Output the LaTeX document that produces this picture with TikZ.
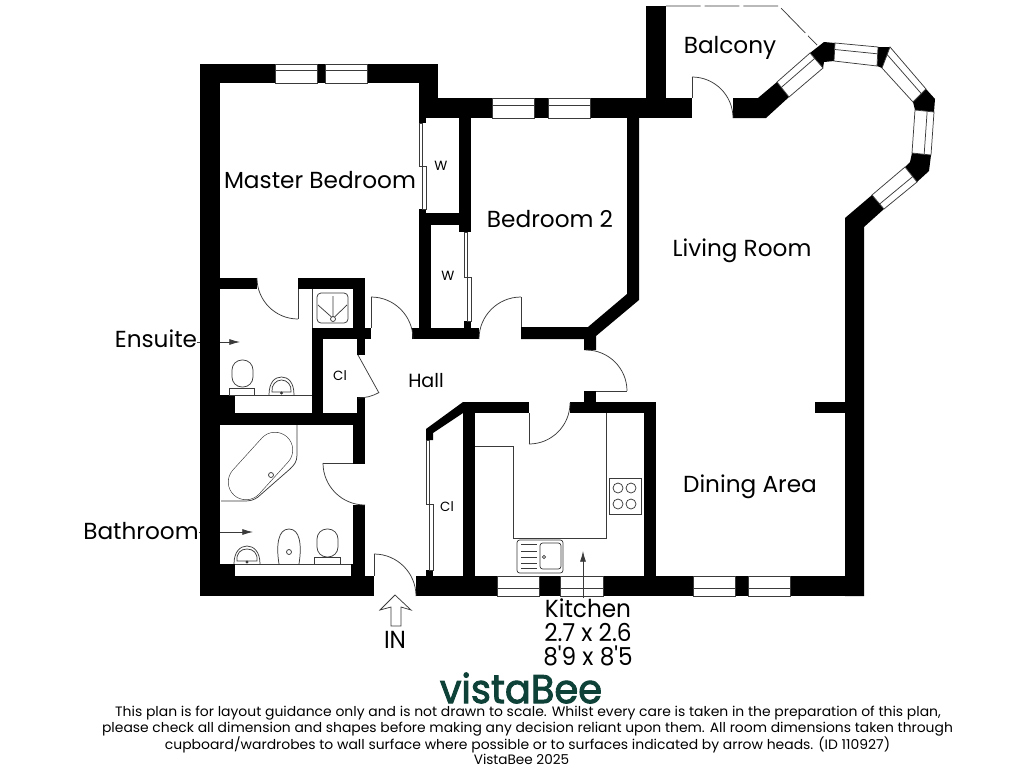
\documentclass[tikz,border=0pt]{standalone}
\usepackage{fontspec}
\usepackage{graphicx}
\setmainfont{Poppins}
\newfontfamily\plainfont{Poppins}
\usetikzlibrary{arrows.meta,calc}
\definecolor{vista}{HTML}{0E4238}
\definecolor{fine}{HTML}{3A3A3A}
\tikzset{
  wall/.style={fill=black,draw=none},
  fine/.style={draw=fine,line width=0.55pt},
  lbl/.style={inner sep=0pt,font=\fontsize{17.4}{20}\selectfont},
  tall/.style={inner sep=0pt,font=\fontsize{18.5}{21}\selectfont},
  small/.style={inner sep=0pt,font=\fontsize{10}{12}\selectfont},
  foot/.style={inner sep=0pt,font=\fontsize{10.2}{12}\selectfont},
  arrowline/.style={draw=fine,line width=0.55pt,-{Latex[length=8pt,width=4.5pt]}},
}
\newcommand{\wallrect}[4]{\fill[wall] (#1,#2) rectangle (#3,#4);}
\newcommand{\doorarc}[5]{\draw[fine] (#1,#2) ++(#3:#5) arc[start angle=#3,end angle=#4,radius=#5];}
\newcommand{\winquad}[4]{\fill[white] #1--#2--#3--#4--cycle; \draw[fine] #1--#2--#3--#4--cycle; \draw[fine] ($#1!0.36!#4$)--($#2!0.36!#3$);}
\newcommand{\heavytext}[1]{\special{pdf:code q 2 Tr 0.7 w 0.055 0.259 0.22 RG}#1\special{pdf:code 0 Tr Q}}
\begin{document}
\begin{tikzpicture}[x=0.75pt,y=-0.75pt]
\useasboundingbox (0,0) rectangle (1024,768);
\fill[white] (0,0) rectangle (1024,768);
% side labels and their arrows sit under the wall
\node[lbl] (ensuite) at (156,339) {Ensuite};
\node[lbl] (bathroom) at (141,531) {Bathroom};
\coordinate (ensA) at (240,342);
\coordinate (bathA) at (253,532);
\draw[arrowline] (ensuite.east |- ensA) -- (ensA);
\draw[arrowline] (bathroom.east |- bathA) -- (bathA);
% outer and partition walls
\wallrect{200}{64}{220}{596}
\wallrect{200}{64}{275}{83}
\wallrect{317}{64}{325}{83}
\wallrect{367}{64}{438}{83}
\wallrect{419}{64}{438}{118}
\wallrect{419}{118}{426}{123}
\wallrect{438}{98}{492}{118}
\wallrect{534}{98}{548}{118}
\wallrect{590}{98}{692}{118}
\wallrect{646}{6}{666}{98}
\fill[wall] (627,118)--(639,118)--(639,300)--(596,336)--(596,350)--(584,350)--(584,339)--(521,339)--(521,327)--(588,327)--(627,294)--cycle;
\wallrect{459}{118}{471}{232}
\wallrect{419}{209}{426}{213}
\wallrect{419}{213}{471}{225}
\wallrect{419}{225}{431}{328}
\wallrect{464}{321}{471}{328}
\wallrect{412}{328}{479}{339}
% ensuite
\wallrect{220}{278}{257}{289}
\wallrect{298}{278}{365}{289}
\wallrect{353}{289}{365}{328}
\wallrect{312}{328}{371}{339}
\wallrect{357}{339}{365}{355}
\wallrect{312}{339}{323}{425}
\wallrect{357}{397}{365}{425}
\wallrect{200}{413}{365}{425}
\wallrect{220}{395}{235}{413}
% bathroom
\wallrect{353}{425}{365}{464}
\wallrect{353}{505}{365}{576}
\wallrect{351}{564}{365}{576}
\wallrect{220}{564}{235}{576}
\wallrect{200}{576}{374}{596}
% bottom wall
\wallrect{416}{576}{497}{596}
\wallrect{539}{576}{560}{596}
\wallrect{603}{576}{693}{596}
\wallrect{735}{576}{748}{596}
\wallrect{790}{576}{863}{596}
\wallrect{426}{570}{433}{576}
% kitchen
\wallrect{463}{402}{475}{576}
\wallrect{463}{402}{529}{413}
\wallrect{570}{402}{656}{413}
\wallrect{644}{402}{656}{576}
\wallrect{584}{391}{596}{402}
\fill[wall] (426,429)--(463,402)--(463,413)--(433,433)--(433,440)--(426,440)--cycle;
% right wall and bay
\wallrect{815}{402}{845}{413}
\fill[wall] (845,596)--(845,218)--(872,195)--(884,209)--(864,227)--(864,596)--cycle;
\fill[wall] (733,98)--(758,98)--(777,82)--(789,97)--(766,118)--(733,118)--cycle;
\fill[wall] (810,53)--(824,42)--(835,43)--(834,61)--(824,62)--(823,68)--cycle;
\fill[wall] (878,47)--(890,47)--(898,57)--(882,68)--(877,66)--cycle;
\fill[wall] (926,89)--(935,99)--(934,112)--(915,110)--(913,102)--cycle;
\fill[wall] (912,153)--(931,155)--(929,171)--(917,182)--(905,167)--(910,162)--cycle;
% windows
\winquad{(275,64)}{(317,64)}{(317,83)}{(275,83)}
\winquad{(325,64)}{(367,64)}{(367,83)}{(325,83)}
\winquad{(492,98)}{(534,98)}{(534,118)}{(492,118)}
\winquad{(548,98)}{(590,98)}{(590,118)}{(548,118)}
\winquad{(497,596)}{(539,596)}{(539,576)}{(497,576)}
\winquad{(560,596)}{(603,596)}{(603,576)}{(560,576)}
\winquad{(693,596)}{(735,596)}{(735,576)}{(693,576)}
\winquad{(748,596)}{(790,596)}{(790,576)}{(748,576)}
\winquad{(777,82)}{(810,53)}{(823,68)}{(789,97)}
\winquad{(835,43)}{(878,47)}{(877,66)}{(834,61)}
\winquad{(890,47)}{(926,89)}{(913,102)}{(882,68)}
\winquad{(934,112)}{(931,155)}{(912,153)}{(915,110)}
\winquad{(884,209)}{(917,182)}{(905,167)}{(872,195)}
% balcony edge
\draw[fine,dash pattern=on 26pt off 3pt] (666,6)--(779,6)--(817,45);
% sliding doors
\draw[fine] (419,123) rectangle (422.5,166);
\draw[fine] (422.5,166) rectangle (426,209);
\draw[fine] (464,232) rectangle (467.5,277);
\draw[fine] (467.5,277) rectangle (471,321);
\draw[fine] (426,440) rectangle (429.5,504);
\draw[fine] (429.5,504) rectangle (433,570);
% doors
\draw[fine] (371,297)--(371,328); \doorarc{371}{339}{-90}{0}{42}
\draw[fine] (521,297)--(521,327); \doorarc{521}{339}{180}{270}{42}
\draw[fine] (298,289)--(298,319); \doorarc{298}{278}{180}{90}{41}
\draw[fine] (323,463)--(353,463); \doorarc{365}{463}{180}{90}{42}
\draw[fine] (374,554)--(374,576); \doorarc{374}{596}{-90}{0}{42}
\draw[fine] (529,413)--(529,444); \doorarc{529}{403}{90}{0}{41}
\draw[fine] (596,391)--(627,391); \doorarc{586}{391}{-90}{0}{41}
\draw[fine] (692,77)--(692,98); \doorarc{692}{118}{-90}{0}{41}
\draw[fine] (358,355)--(379,393); \doorarc{358}{355}{61}{90}{43}
% shower
\draw[fine] (312,289)--(312,328);
\draw[fine,rounded corners=3pt] (317,293) rectangle (348,323);
\draw[fine] (333,319) circle[radius=2.5];
\draw[fine] (333,316.5)--(333,296) (331.5,317)--(318,305) (334.5,317)--(347,305);
% ensuite fixtures
\draw[fine] (235,395)--(312,395);
\draw[fine,rounded corners=7.5pt] (232,360) rectangle (253,387);
\draw[fine] (229,388) rectangle (254,395);
\draw[fine] (269,395) .. controls (269,382) and (275,377) .. (281.5,377) .. controls (288,377) and (294,382) .. (294,395);
\draw[fine] (272,392) .. controls (271,385) and (276,380) .. (281.5,380) .. controls (287,380) and (292,385) .. (291,392)--cycle;
\fill[fine] (281.5,393) circle[radius=1];
% bath
\draw[fine,line width=27pt,line cap=round] (246,482)--(275,450);
\draw[white,line width=26.1pt,line cap=round] (246,482)--(275,450);
\draw[fine] (271,475) circle[radius=2.5];
\draw[fine] (297,425)--(297,455) .. controls (297,462) and (294,465) .. (290,469) -- (258,497) .. controls (254,500) and (250,501) .. (245,501) -- (221,501);
% bathroom fixtures
\draw[fine] (235,564)--(351,564);
\draw[fine] (234,564) .. controls (234,552) and (240,546) .. (247,546) .. controls (254,546) and (260,552) .. (260,564);
\draw[fine] (237,561) .. controls (236,553) and (241,549) .. (247,549) .. controls (253,549) and (258,553) .. (257,561)--cycle;
\fill[fine] (247,562) circle[radius=1];
\draw[fine] (279,564) .. controls (276,545) and (278,529) .. (289,529) .. controls (300,529) and (302,545) .. (299,564);
\draw[fine] (289,552) circle[radius=2.5];
\draw[fine,rounded corners=7.5pt] (317,529) rectangle (338,557);
\draw[fine] (314,557) rectangle (340,564);
% kitchen fixtures
\draw[fine] (475,446)--(513,446)--(513,538)--(606,538)--(606,413);
\draw[fine] (609,478) rectangle (641,514);
\foreach \cx/\cy in {618/488,631/488,618/504,631/504}{\draw[fine] (\cx,\cy) circle[radius=5];}
\draw[fine,rounded corners=2pt] (517,540) rectangle (563,573);
\draw[fine,rounded corners=2pt] (540,543) rectangle (561,569);
\draw[fine] (544,557) circle[radius=1.6];
\foreach \ly in {544,551,557,563,568}{\draw[fine] (521,\ly)--(537,\ly);}
% labels
\node[lbl] (master) at (320,180) {Master Bedroom};
\node[lbl] (bed2) at (550,219) {Bedroom 2};
\node[lbl] (living) at (742,250.5) {Living Room};
\node[lbl] (balcony) at (730,48) {Balcony};
\node[lbl] (dining) at (750,487) {Dining Area};
\node[inner sep=0pt,font=\fontsize{14.3}{16}\selectfont] (hall) at (426,381) {Hall};
\node[small] (cla) at (340,376) {Cl};
\node[small] (clb) at (447,507) {Cl};
\node[small] (wa) at (441,166) {W};
\node[small] (wb) at (448,276) {W};
% kitchen label
\coordinate (kitA) at (583,551);
\node[tall] (kitchen) at (588,608) {\scalebox{0.94}[1]{Kitchen}};
\draw[arrowline] (kitchen.north -| kitA) -- (kitA);
\node[tall] (kdim) at (588,632) {\scalebox{0.94}[1]{2.7 x 2.6}};
\node[tall] (kimp) at (588,656) {\scalebox{0.94}[1]{\plainfont 8'9 x 8'5}};
\node[tall] (in) at (395,640) {\scalebox{0.94}[1]{IN}};
\draw[fine] (395,595)--(411,610)--(401,607)--(401,626)--(391,626)--(391,607)--(380,610)--cycle;
% footer
\node[inner sep=0pt,text=vista,font=\fontsize{30}{33}\selectfont] (logo) at (521,688) {\scalebox{0.96}[1]{\heavytext{vistaBee}}};
\node[foot] (f1) at (528,713) {\scalebox{1.025}[1]{This plan is for layout guidance only and is not drawn to scale. Whilst every care is taken in the preparation of this plan,}};
\node[foot] (f2) at (527.5,729) {\scalebox{1.022}[1]{please check all dimension and shapes before making any decision reliant upon them. All room dimensions taken through}};
\node[foot] (f3) at (527.5,745) {\scalebox{1.025}[1]{cupboard/wardrobes to wall surface where possible or to surfaces indicated by arrow heads. (ID 110927)}};
\node[foot] (f4) at (521.5,759.5) {VistaBee 2025};
\end{tikzpicture}
\end{document}
